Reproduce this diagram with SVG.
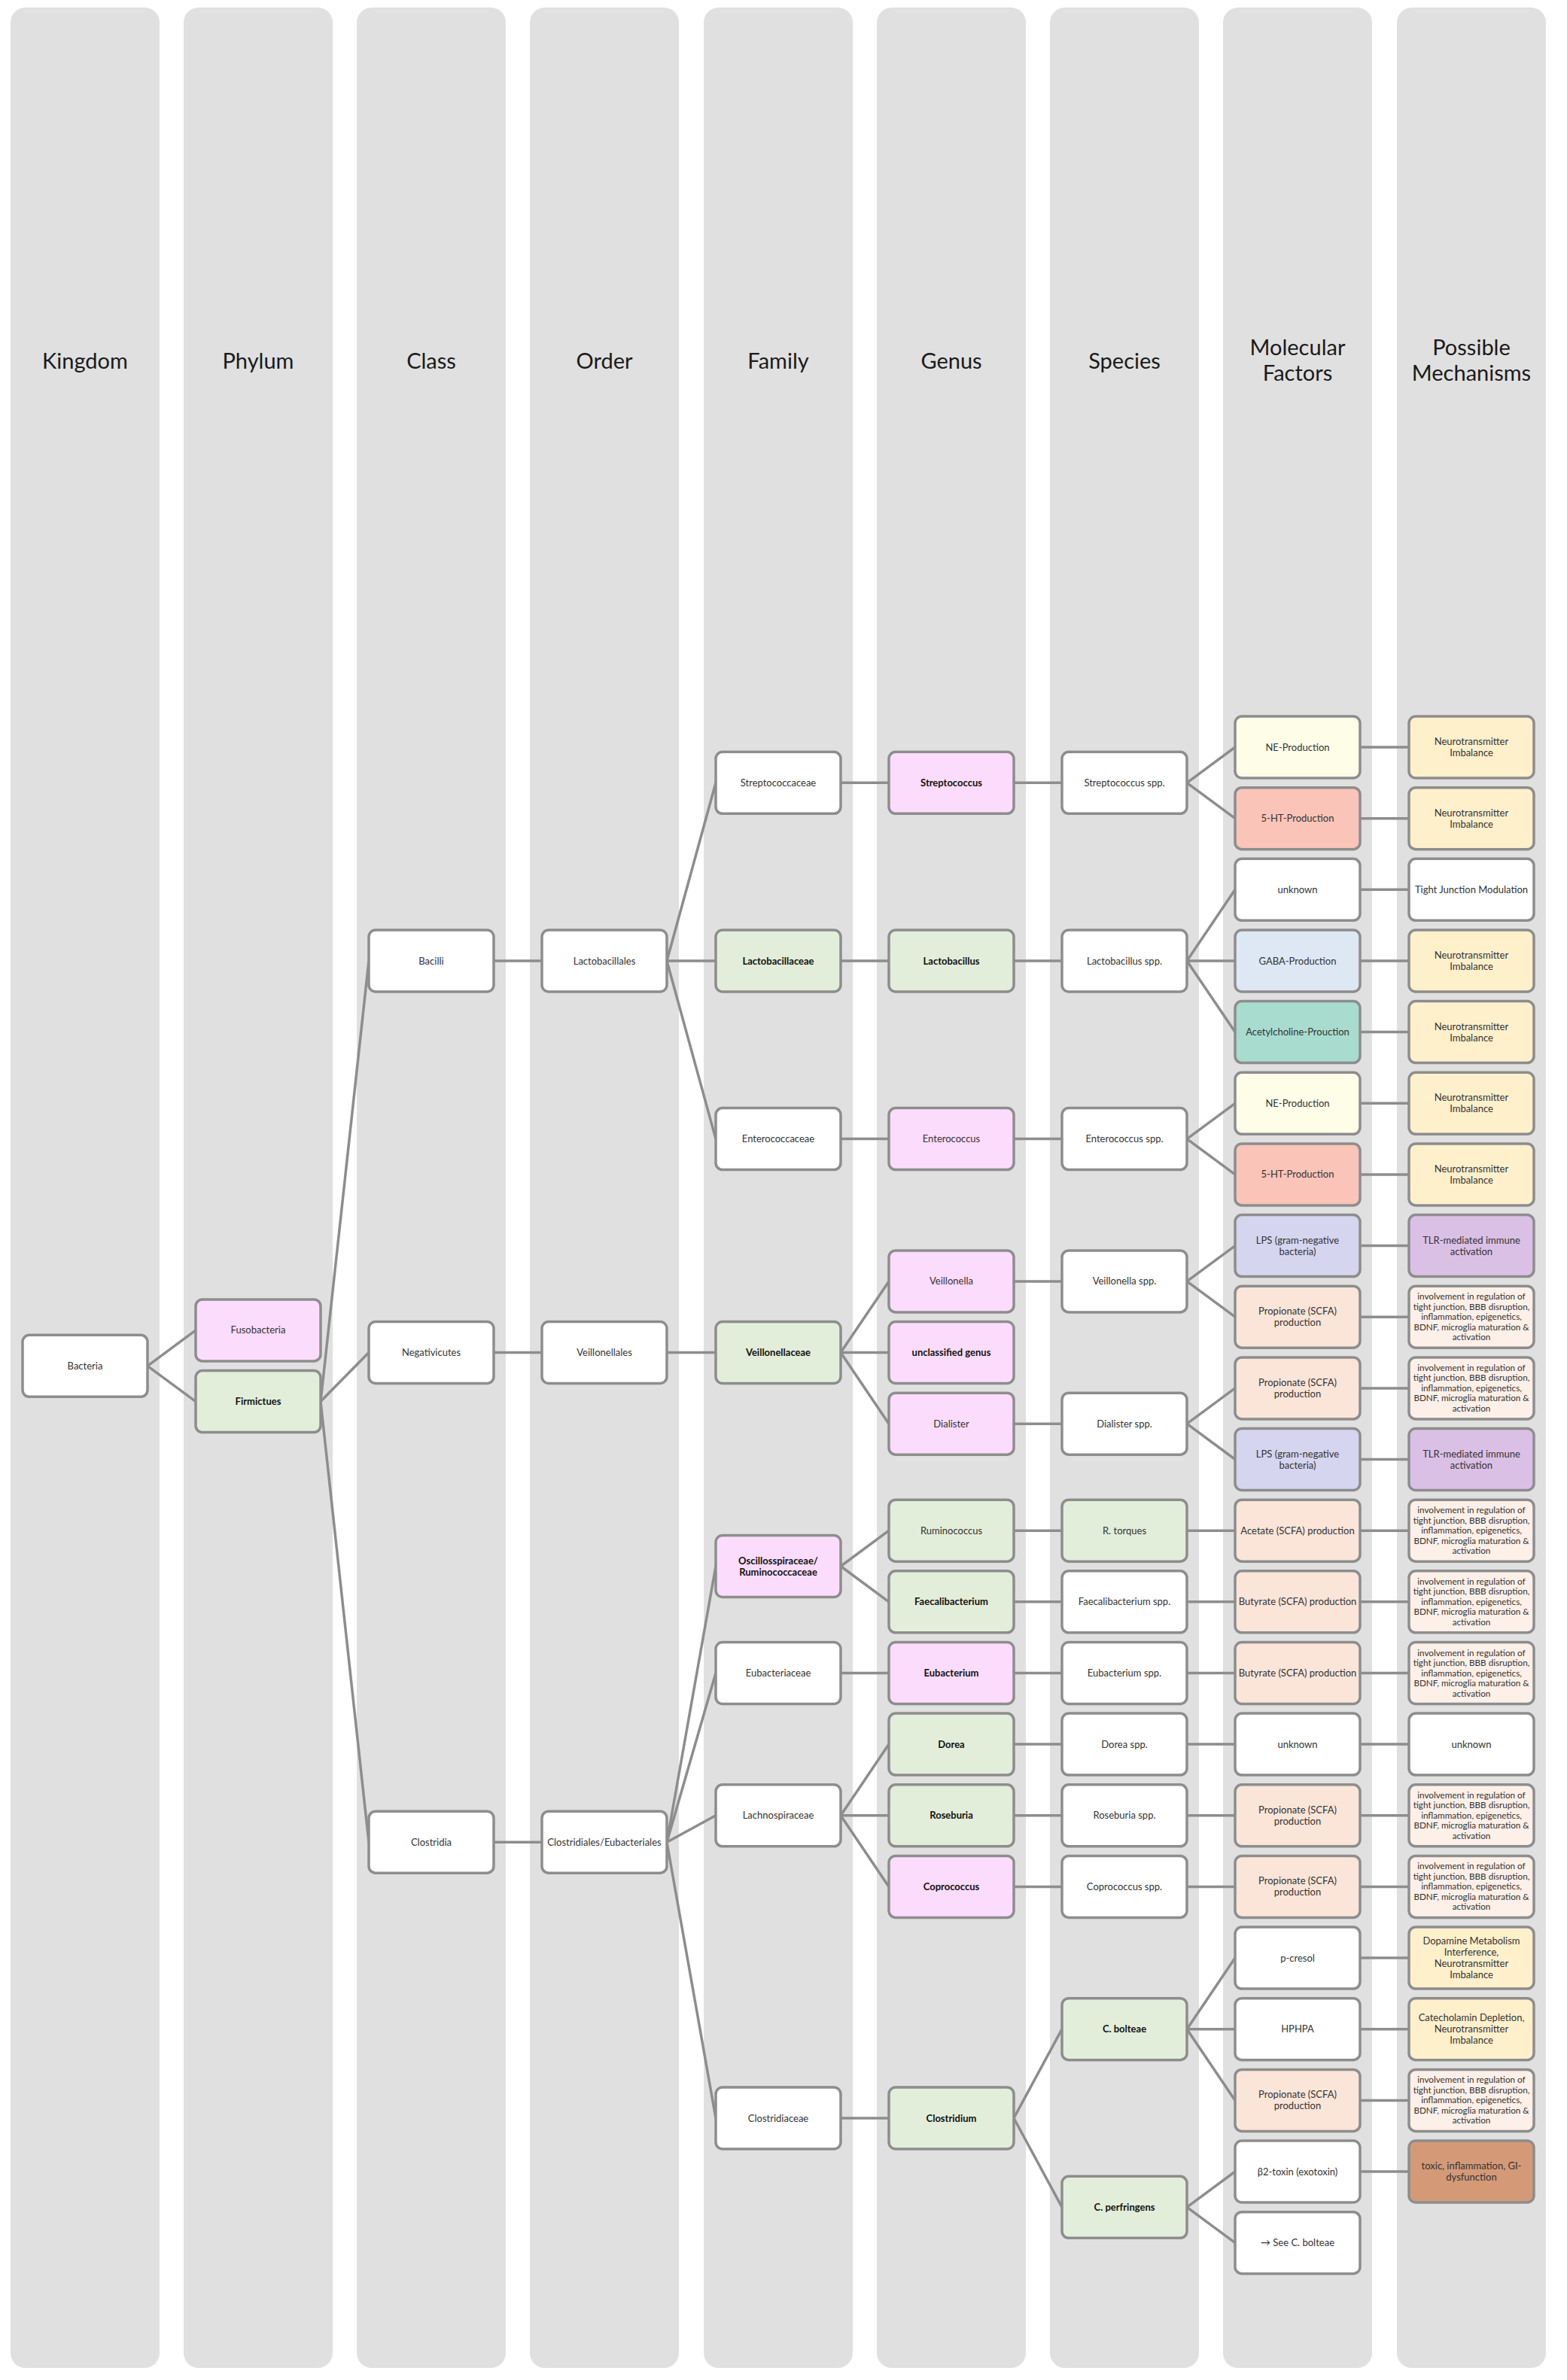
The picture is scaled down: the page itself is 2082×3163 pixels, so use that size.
<svg xmlns="http://www.w3.org/2000/svg" width="2082" height="3163" viewBox="0 0 2082 3163">
<style>
.col{fill:#e0e0e0}
.n rect{stroke:#8d8d8d;stroke-width:3.5}
.w{fill:#ffffff}.pk{fill:#fcdcfc}.gr{fill:#e2eed9}.ne{fill:#fefee8}.ht{fill:#fbc4b8}.gaba{fill:#dde8f4}.ach{fill:#a8dccf}.lps{fill:#d5d5ef}.scfa{fill:#fae5d8}.nt{fill:#fff0cc}.tlr{fill:#dbc0e6}.inv{fill:#fdf0e8}.tox{fill:#d49a78}
text{font-family:Lato,"Liberation Sans",sans-serif;text-anchor:middle}
.n text{font-size:13px;fill:#333}
.n text.b{font-weight:bold;fill:#111}
.n text.s{font-size:11.7px}
.h{font-size:29px;fill:#1a1a1a}
.c path{stroke:#8d8d8d;stroke-width:3.5;fill:none}
</style>
<g id="columns">
<rect class="col" x="14" y="10" width="198" height="3137" rx="20"/>
<rect class="col" x="244" y="10" width="198" height="3137" rx="20"/>
<rect class="col" x="474" y="10" width="198" height="3137" rx="20"/>
<rect class="col" x="704" y="10" width="198" height="3137" rx="20"/>
<rect class="col" x="935" y="10" width="198" height="3137" rx="20"/>
<rect class="col" x="1165" y="10" width="198" height="3137" rx="20"/>
<rect class="col" x="1395" y="10" width="198" height="3137" rx="20"/>
<rect class="col" x="1625" y="10" width="198" height="3137" rx="20"/>
<rect class="col" x="1856" y="10" width="198" height="3137" rx="20"/>
<text class="h" x="113" y="490">Kingdom</text>
<text class="h" x="343" y="490">Phylum</text>
<text class="h" x="573" y="490">Class</text>
<text class="h" x="803" y="490">Order</text>
<text class="h" x="1034" y="490">Family</text>
<text class="h" x="1264" y="490">Genus</text>
<text class="h" x="1494" y="490">Species</text>
<text class="h" x="1724" y="472">Molecular<tspan x="1724" dy="34">Factors</tspan></text>
<text class="h" x="1955" y="472">Possible<tspan x="1955" dy="34">Mechanisms</tspan></text>
</g>
<g id="connectors" class="c">
<path d="M196,1815.3 L260,1767.9"/>
<path d="M196,1815.3 L260,1862.6"/>
<path d="M426,1862.6 L490,1277"/>
<path d="M426,1862.6 L490,1797.5"/>
<path d="M426,1862.6 L490,2448.2"/>
<path d="M656,1277 L720,1277"/>
<path d="M656,1797.5 L720,1797.5"/>
<path d="M656,2448.2 L720,2448.2"/>
<path d="M886,1277 L951,1040.3"/>
<path d="M886,1277 L951,1277"/>
<path d="M886,1277 L951,1513.6"/>
<path d="M886,1797.5 L951,1797.5"/>
<path d="M886,2448.2 L951,2081.5"/>
<path d="M886,2448.2 L951,2223.5"/>
<path d="M886,2448.2 L951,2412.8"/>
<path d="M886,2448.2 L951,2815"/>
<path d="M1117,1040.3 L1181,1040.3"/>
<path d="M1117,1277 L1181,1277"/>
<path d="M1117,1513.6 L1181,1513.6"/>
<path d="M1117,1797.5 L1181,1702.9"/>
<path d="M1117,1797.5 L1181,1797.5"/>
<path d="M1117,1797.5 L1181,1892.2"/>
<path d="M1117,2081.5 L1181,2034.2"/>
<path d="M1117,2081.5 L1181,2128.8"/>
<path d="M1117,2223.5 L1181,2223.5"/>
<path d="M1117,2412.8 L1181,2318.1"/>
<path d="M1117,2412.8 L1181,2412.8"/>
<path d="M1117,2412.8 L1181,2507.4"/>
<path d="M1117,2815 L1181,2815"/>
<path d="M1347,1040.3 L1411,1040.3"/>
<path d="M1347,1277 L1411,1277"/>
<path d="M1347,1513.6 L1411,1513.6"/>
<path d="M1347,1702.9 L1411,1702.9"/>
<path d="M1347,1892.2 L1411,1892.2"/>
<path d="M1347,2034.2 L1411,2034.2"/>
<path d="M1347,2128.8 L1411,2128.8"/>
<path d="M1347,2223.5 L1411,2223.5"/>
<path d="M1347,2318.1 L1411,2318.1"/>
<path d="M1347,2412.8 L1411,2412.8"/>
<path d="M1347,2507.4 L1411,2507.4"/>
<path d="M1347,2815 L1411,2696.7"/>
<path d="M1347,2815 L1411,2933.3"/>
<path d="M1577,1040.3 L1641,993"/>
<path d="M1577,1040.3 L1641,1087.7"/>
<path d="M1577,1277 L1641,1182.3"/>
<path d="M1577,1277 L1641,1277"/>
<path d="M1577,1277 L1641,1371.6"/>
<path d="M1577,1513.6 L1641,1466.3"/>
<path d="M1577,1513.6 L1641,1560.9"/>
<path d="M1577,1702.9 L1641,1655.6"/>
<path d="M1577,1702.9 L1641,1750.2"/>
<path d="M1577,1892.2 L1641,1844.9"/>
<path d="M1577,1892.2 L1641,1939.5"/>
<path d="M1577,2034.2 L1641,2034.2"/>
<path d="M1577,2128.8 L1641,2128.8"/>
<path d="M1577,2223.5 L1641,2223.5"/>
<path d="M1577,2318.1 L1641,2318.1"/>
<path d="M1577,2412.8 L1641,2412.8"/>
<path d="M1577,2507.4 L1641,2507.4"/>
<path d="M1577,2696.7 L1641,2602.1"/>
<path d="M1577,2696.7 L1641,2696.7"/>
<path d="M1577,2696.7 L1641,2791.4"/>
<path d="M1577,2933.3 L1641,2886"/>
<path d="M1577,2933.3 L1641,2980.7"/>
<path d="M1807,993 L1872,993"/>
<path d="M1807,1087.7 L1872,1087.7"/>
<path d="M1807,1182.3 L1872,1182.3"/>
<path d="M1807,1277 L1872,1277"/>
<path d="M1807,1371.6 L1872,1371.6"/>
<path d="M1807,1466.3 L1872,1466.3"/>
<path d="M1807,1560.9 L1872,1560.9"/>
<path d="M1807,1655.6 L1872,1655.6"/>
<path d="M1807,1750.2 L1872,1750.2"/>
<path d="M1807,1844.9 L1872,1844.9"/>
<path d="M1807,1939.5 L1872,1939.5"/>
<path d="M1807,2034.2 L1872,2034.2"/>
<path d="M1807,2128.8 L1872,2128.8"/>
<path d="M1807,2223.5 L1872,2223.5"/>
<path d="M1807,2318.1 L1872,2318.1"/>
<path d="M1807,2412.8 L1872,2412.8"/>
<path d="M1807,2507.4 L1872,2507.4"/>
<path d="M1807,2602.1 L1872,2602.1"/>
<path d="M1807,2696.7 L1872,2696.7"/>
<path d="M1807,2791.4 L1872,2791.4"/>
<path d="M1807,2886 L1872,2886"/>
</g>
<g id="n-bacteria" class="n" transform="translate(30,1815.3)"><rect class="w" y="-41" width="166" height="82" rx="9"/><text x="83" y="4.5">Bacteria</text></g>
<g id="n-fusobacteria" class="n" transform="translate(260,1767.9)"><rect class="pk" y="-41" width="166" height="82" rx="9"/><text x="83" y="4.5">Fusobacteria</text></g>
<g id="n-firmictues" class="n" transform="translate(260,1862.6)"><rect class="gr" y="-41" width="166" height="82" rx="9"/><text class="b" x="83" y="4.5">Firmictues</text></g>
<g id="n-bacilli" class="n" transform="translate(490,1277)"><rect class="w" y="-41" width="166" height="82" rx="9"/><text x="83" y="4.5">Bacilli</text></g>
<g id="n-negativicutes" class="n" transform="translate(490,1797.5)"><rect class="w" y="-41" width="166" height="82" rx="9"/><text x="83" y="4.5">Negativicutes</text></g>
<g id="n-clostridia" class="n" transform="translate(490,2448.2)"><rect class="w" y="-41" width="166" height="82" rx="9"/><text x="83" y="4.5">Clostridia</text></g>
<g id="n-lactobacillales" class="n" transform="translate(720,1277)"><rect class="w" y="-41" width="166" height="82" rx="9"/><text x="83" y="4.5">Lactobacillales</text></g>
<g id="n-veillonellales" class="n" transform="translate(720,1797.5)"><rect class="w" y="-41" width="166" height="82" rx="9"/><text x="83" y="4.5">Veillonellales</text></g>
<g id="n-clostridiales" class="n" transform="translate(720,2448.2)"><rect class="w" y="-41" width="166" height="82" rx="9"/><text x="83" y="4.5">Clostridiales/Eubacteriales</text></g>
<g id="n-streptococcaceae" class="n" transform="translate(951,1040.3)"><rect class="w" y="-41" width="166" height="82" rx="9"/><text x="83" y="4.5">Streptococcaceae</text></g>
<g id="n-lactobacillaceae" class="n" transform="translate(951,1277)"><rect class="gr" y="-41" width="166" height="82" rx="9"/><text class="b" x="83" y="4.5">Lactobacillaceae</text></g>
<g id="n-enterococcaceae" class="n" transform="translate(951,1513.6)"><rect class="w" y="-41" width="166" height="82" rx="9"/><text x="83" y="4.5">Enterococcaceae</text></g>
<g id="n-veillonellaceae" class="n" transform="translate(951,1797.5)"><rect class="gr" y="-41" width="166" height="82" rx="9"/><text class="b" x="83" y="4.5">Veillonellaceae</text></g>
<g id="n-oscillospiraceae" class="n" transform="translate(951,2081.5)"><rect class="pk" y="-41" width="166" height="82" rx="9"/><text class="b" x="83" y="-3">Oscillosspiraceae/<tspan x="83" dy="15">Ruminococcaceae</tspan></text></g>
<g id="n-eubacteriaceae" class="n" transform="translate(951,2223.5)"><rect class="w" y="-41" width="166" height="82" rx="9"/><text x="83" y="4.5">Eubacteriaceae</text></g>
<g id="n-lachnospiraceae" class="n" transform="translate(951,2412.8)"><rect class="w" y="-41" width="166" height="82" rx="9"/><text x="83" y="4.5">Lachnospiraceae</text></g>
<g id="n-clostridiaceae" class="n" transform="translate(951,2815)"><rect class="w" y="-41" width="166" height="82" rx="9"/><text x="83" y="4.5">Clostridiaceae</text></g>
<g id="n-streptococcus" class="n" transform="translate(1181,1040.3)"><rect class="pk" y="-41" width="166" height="82" rx="9"/><text class="b" x="83" y="4.5">Streptococcus</text></g>
<g id="n-lactobacillus" class="n" transform="translate(1181,1277)"><rect class="gr" y="-41" width="166" height="82" rx="9"/><text class="b" x="83" y="4.5">Lactobacillus</text></g>
<g id="n-enterococcus" class="n" transform="translate(1181,1513.6)"><rect class="pk" y="-41" width="166" height="82" rx="9"/><text x="83" y="4.5">Enterococcus</text></g>
<g id="n-veillonella" class="n" transform="translate(1181,1702.9)"><rect class="pk" y="-41" width="166" height="82" rx="9"/><text x="83" y="4.5">Veillonella</text></g>
<g id="n-unclassified" class="n" transform="translate(1181,1797.5)"><rect class="pk" y="-41" width="166" height="82" rx="9"/><text class="b" x="83" y="4.5">unclassified genus</text></g>
<g id="n-dialister" class="n" transform="translate(1181,1892.2)"><rect class="pk" y="-41" width="166" height="82" rx="9"/><text x="83" y="4.5">Dialister</text></g>
<g id="n-ruminococcus" class="n" transform="translate(1181,2034.2)"><rect class="gr" y="-41" width="166" height="82" rx="9"/><text x="83" y="4.5">Ruminococcus</text></g>
<g id="n-faecalibacterium" class="n" transform="translate(1181,2128.8)"><rect class="gr" y="-41" width="166" height="82" rx="9"/><text class="b" x="83" y="4.5">Faecalibacterium</text></g>
<g id="n-eubacterium" class="n" transform="translate(1181,2223.5)"><rect class="pk" y="-41" width="166" height="82" rx="9"/><text class="b" x="83" y="4.5">Eubacterium</text></g>
<g id="n-dorea" class="n" transform="translate(1181,2318.1)"><rect class="gr" y="-41" width="166" height="82" rx="9"/><text class="b" x="83" y="4.5">Dorea</text></g>
<g id="n-roseburia" class="n" transform="translate(1181,2412.8)"><rect class="gr" y="-41" width="166" height="82" rx="9"/><text class="b" x="83" y="4.5">Roseburia</text></g>
<g id="n-coprococcus" class="n" transform="translate(1181,2507.4)"><rect class="pk" y="-41" width="166" height="82" rx="9"/><text class="b" x="83" y="4.5">Coprococcus</text></g>
<g id="n-clostridium" class="n" transform="translate(1181,2815)"><rect class="gr" y="-41" width="166" height="82" rx="9"/><text class="b" x="83" y="4.5">Clostridium</text></g>
<g id="n-streptococcus-spp" class="n" transform="translate(1411,1040.3)"><rect class="w" y="-41" width="166" height="82" rx="9"/><text x="83" y="4.5">Streptococcus spp.</text></g>
<g id="n-lactobacillus-spp" class="n" transform="translate(1411,1277)"><rect class="w" y="-41" width="166" height="82" rx="9"/><text x="83" y="4.5">Lactobacillus spp.</text></g>
<g id="n-enterococcus-spp" class="n" transform="translate(1411,1513.6)"><rect class="w" y="-41" width="166" height="82" rx="9"/><text x="83" y="4.5">Enterococcus spp.</text></g>
<g id="n-veillonella-spp" class="n" transform="translate(1411,1702.9)"><rect class="w" y="-41" width="166" height="82" rx="9"/><text x="83" y="4.5">Veillonella spp.</text></g>
<g id="n-dialister-spp" class="n" transform="translate(1411,1892.2)"><rect class="w" y="-41" width="166" height="82" rx="9"/><text x="83" y="4.5">Dialister spp.</text></g>
<g id="n-r-torques" class="n" transform="translate(1411,2034.2)"><rect class="gr" y="-41" width="166" height="82" rx="9"/><text x="83" y="4.5">R. torques</text></g>
<g id="n-faecalibacterium-spp" class="n" transform="translate(1411,2128.8)"><rect class="w" y="-41" width="166" height="82" rx="9"/><text x="83" y="4.5">Faecalibacterium spp.</text></g>
<g id="n-eubacterium-spp" class="n" transform="translate(1411,2223.5)"><rect class="w" y="-41" width="166" height="82" rx="9"/><text x="83" y="4.5">Eubacterium spp.</text></g>
<g id="n-dorea-spp" class="n" transform="translate(1411,2318.1)"><rect class="w" y="-41" width="166" height="82" rx="9"/><text x="83" y="4.5">Dorea spp.</text></g>
<g id="n-roseburia-spp" class="n" transform="translate(1411,2412.8)"><rect class="w" y="-41" width="166" height="82" rx="9"/><text x="83" y="4.5">Roseburia spp.</text></g>
<g id="n-coprococcus-spp" class="n" transform="translate(1411,2507.4)"><rect class="w" y="-41" width="166" height="82" rx="9"/><text x="83" y="4.5">Coprococcus spp.</text></g>
<g id="n-c-bolteae" class="n" transform="translate(1411,2696.7)"><rect class="gr" y="-41" width="166" height="82" rx="9"/><text class="b" x="83" y="4.5">C. bolteae</text></g>
<g id="n-c-perfringens" class="n" transform="translate(1411,2933.3)"><rect class="gr" y="-41" width="166" height="82" rx="9"/><text class="b" x="83" y="4.5">C. perfringens</text></g>
<g id="mf-0" class="n" transform="translate(1641,993)"><rect class="ne" y="-41" width="166" height="82" rx="9"/><text x="83" y="4.5">NE-Production</text></g>
<g id="mf-1" class="n" transform="translate(1641,1087.7)"><rect class="ht" y="-41" width="166" height="82" rx="9"/><text x="83" y="4.5">5-HT-Production</text></g>
<g id="mf-2" class="n" transform="translate(1641,1182.3)"><rect class="w" y="-41" width="166" height="82" rx="9"/><text x="83" y="4.5">unknown</text></g>
<g id="mf-3" class="n" transform="translate(1641,1277)"><rect class="gaba" y="-41" width="166" height="82" rx="9"/><text x="83" y="4.5">GABA-Production</text></g>
<g id="mf-4" class="n" transform="translate(1641,1371.6)"><rect class="ach" y="-41" width="166" height="82" rx="9"/><text x="83" y="4.5">Acetylcholine-Prouction</text></g>
<g id="mf-5" class="n" transform="translate(1641,1466.3)"><rect class="ne" y="-41" width="166" height="82" rx="9"/><text x="83" y="4.5">NE-Production</text></g>
<g id="mf-6" class="n" transform="translate(1641,1560.9)"><rect class="ht" y="-41" width="166" height="82" rx="9"/><text x="83" y="4.5">5-HT-Production</text></g>
<g id="mf-7" class="n" transform="translate(1641,1655.6)"><rect class="lps" y="-41" width="166" height="82" rx="9"/><text x="83" y="-3">LPS (gram-negative<tspan x="83" dy="15">bacteria)</tspan></text></g>
<g id="mf-8" class="n" transform="translate(1641,1750.2)"><rect class="scfa" y="-41" width="166" height="82" rx="9"/><text x="83" y="-3">Propionate (SCFA)<tspan x="83" dy="15">production</tspan></text></g>
<g id="mf-9" class="n" transform="translate(1641,1844.9)"><rect class="scfa" y="-41" width="166" height="82" rx="9"/><text x="83" y="-3">Propionate (SCFA)<tspan x="83" dy="15">production</tspan></text></g>
<g id="mf-10" class="n" transform="translate(1641,1939.5)"><rect class="lps" y="-41" width="166" height="82" rx="9"/><text x="83" y="-3">LPS (gram-negative<tspan x="83" dy="15">bacteria)</tspan></text></g>
<g id="mf-11" class="n" transform="translate(1641,2034.2)"><rect class="scfa" y="-41" width="166" height="82" rx="9"/><text x="83" y="4.5">Acetate (SCFA) production</text></g>
<g id="mf-12" class="n" transform="translate(1641,2128.8)"><rect class="scfa" y="-41" width="166" height="82" rx="9"/><text x="83" y="4.5">Butyrate (SCFA) production</text></g>
<g id="mf-13" class="n" transform="translate(1641,2223.5)"><rect class="scfa" y="-41" width="166" height="82" rx="9"/><text x="83" y="4.5">Butyrate (SCFA) production</text></g>
<g id="mf-14" class="n" transform="translate(1641,2318.1)"><rect class="w" y="-41" width="166" height="82" rx="9"/><text x="83" y="4.5">unknown</text></g>
<g id="mf-15" class="n" transform="translate(1641,2412.8)"><rect class="scfa" y="-41" width="166" height="82" rx="9"/><text x="83" y="-3">Propionate (SCFA)<tspan x="83" dy="15">production</tspan></text></g>
<g id="mf-16" class="n" transform="translate(1641,2507.4)"><rect class="scfa" y="-41" width="166" height="82" rx="9"/><text x="83" y="-3">Propionate (SCFA)<tspan x="83" dy="15">production</tspan></text></g>
<g id="mf-17" class="n" transform="translate(1641,2602.1)"><rect class="w" y="-41" width="166" height="82" rx="9"/><text x="83" y="4.5">p-cresol</text></g>
<g id="mf-18" class="n" transform="translate(1641,2696.7)"><rect class="w" y="-41" width="166" height="82" rx="9"/><text x="83" y="4.5">HPHPA</text></g>
<g id="mf-19" class="n" transform="translate(1641,2791.4)"><rect class="scfa" y="-41" width="166" height="82" rx="9"/><text x="83" y="-3">Propionate (SCFA)<tspan x="83" dy="15">production</tspan></text></g>
<g id="mf-20" class="n" transform="translate(1641,2886)"><rect class="w" y="-41" width="166" height="82" rx="9"/><text x="83" y="4.5">β2-toxin (exotoxin)</text></g>
<g id="mf-21" class="n" transform="translate(1641,2980.7)"><rect class="w" y="-41" width="166" height="82" rx="9"/><text x="83" y="4.5">→ See C. bolteae</text></g>
<g id="pm-0" class="n" transform="translate(1872,993)"><rect class="nt" y="-41" width="166" height="82" rx="9"/><text x="83" y="-3">Neurotransmitter<tspan x="83" dy="15">Imbalance</tspan></text></g>
<g id="pm-1" class="n" transform="translate(1872,1087.7)"><rect class="nt" y="-41" width="166" height="82" rx="9"/><text x="83" y="-3">Neurotransmitter<tspan x="83" dy="15">Imbalance</tspan></text></g>
<g id="pm-2" class="n" transform="translate(1872,1182.3)"><rect class="w" y="-41" width="166" height="82" rx="9"/><text x="83" y="4.5">Tight Junction Modulation</text></g>
<g id="pm-3" class="n" transform="translate(1872,1277)"><rect class="nt" y="-41" width="166" height="82" rx="9"/><text x="83" y="-3">Neurotransmitter<tspan x="83" dy="15">Imbalance</tspan></text></g>
<g id="pm-4" class="n" transform="translate(1872,1371.6)"><rect class="nt" y="-41" width="166" height="82" rx="9"/><text x="83" y="-3">Neurotransmitter<tspan x="83" dy="15">Imbalance</tspan></text></g>
<g id="pm-5" class="n" transform="translate(1872,1466.3)"><rect class="nt" y="-41" width="166" height="82" rx="9"/><text x="83" y="-3">Neurotransmitter<tspan x="83" dy="15">Imbalance</tspan></text></g>
<g id="pm-6" class="n" transform="translate(1872,1560.9)"><rect class="nt" y="-41" width="166" height="82" rx="9"/><text x="83" y="-3">Neurotransmitter<tspan x="83" dy="15">Imbalance</tspan></text></g>
<g id="pm-7" class="n" transform="translate(1872,1655.6)"><rect class="tlr" y="-41" width="166" height="82" rx="9"/><text x="83" y="-3">TLR-mediated immune<tspan x="83" dy="15">activation</tspan></text></g>
<g id="pm-8" class="n" transform="translate(1872,1750.2)"><rect class="inv" y="-41" width="166" height="82" rx="9"/><text class="s" x="83" y="-23">involvement in regulation of<tspan x="83" dy="13.5">tight junction, BBB disruption,</tspan><tspan x="83" dy="13.5">inflammation, epigenetics,</tspan><tspan x="83" dy="13.5">BDNF, microglia maturation &amp;</tspan><tspan x="83" dy="13.5">activation</tspan></text></g>
<g id="pm-9" class="n" transform="translate(1872,1844.9)"><rect class="inv" y="-41" width="166" height="82" rx="9"/><text class="s" x="83" y="-23">involvement in regulation of<tspan x="83" dy="13.5">tight junction, BBB disruption,</tspan><tspan x="83" dy="13.5">inflammation, epigenetics,</tspan><tspan x="83" dy="13.5">BDNF, microglia maturation &amp;</tspan><tspan x="83" dy="13.5">activation</tspan></text></g>
<g id="pm-10" class="n" transform="translate(1872,1939.5)"><rect class="tlr" y="-41" width="166" height="82" rx="9"/><text x="83" y="-3">TLR-mediated immune<tspan x="83" dy="15">activation</tspan></text></g>
<g id="pm-11" class="n" transform="translate(1872,2034.2)"><rect class="inv" y="-41" width="166" height="82" rx="9"/><text class="s" x="83" y="-23">involvement in regulation of<tspan x="83" dy="13.5">tight junction, BBB disruption,</tspan><tspan x="83" dy="13.5">inflammation, epigenetics,</tspan><tspan x="83" dy="13.5">BDNF, microglia maturation &amp;</tspan><tspan x="83" dy="13.5">activation</tspan></text></g>
<g id="pm-12" class="n" transform="translate(1872,2128.8)"><rect class="inv" y="-41" width="166" height="82" rx="9"/><text class="s" x="83" y="-23">involvement in regulation of<tspan x="83" dy="13.5">tight junction, BBB disruption,</tspan><tspan x="83" dy="13.5">inflammation, epigenetics,</tspan><tspan x="83" dy="13.5">BDNF, microglia maturation &amp;</tspan><tspan x="83" dy="13.5">activation</tspan></text></g>
<g id="pm-13" class="n" transform="translate(1872,2223.5)"><rect class="inv" y="-41" width="166" height="82" rx="9"/><text class="s" x="83" y="-23">involvement in regulation of<tspan x="83" dy="13.5">tight junction, BBB disruption,</tspan><tspan x="83" dy="13.5">inflammation, epigenetics,</tspan><tspan x="83" dy="13.5">BDNF, microglia maturation &amp;</tspan><tspan x="83" dy="13.5">activation</tspan></text></g>
<g id="pm-14" class="n" transform="translate(1872,2318.1)"><rect class="w" y="-41" width="166" height="82" rx="9"/><text x="83" y="4.5">unknown</text></g>
<g id="pm-15" class="n" transform="translate(1872,2412.8)"><rect class="inv" y="-41" width="166" height="82" rx="9"/><text class="s" x="83" y="-23">involvement in regulation of<tspan x="83" dy="13.5">tight junction, BBB disruption,</tspan><tspan x="83" dy="13.5">inflammation, epigenetics,</tspan><tspan x="83" dy="13.5">BDNF, microglia maturation &amp;</tspan><tspan x="83" dy="13.5">activation</tspan></text></g>
<g id="pm-16" class="n" transform="translate(1872,2507.4)"><rect class="inv" y="-41" width="166" height="82" rx="9"/><text class="s" x="83" y="-23">involvement in regulation of<tspan x="83" dy="13.5">tight junction, BBB disruption,</tspan><tspan x="83" dy="13.5">inflammation, epigenetics,</tspan><tspan x="83" dy="13.5">BDNF, microglia maturation &amp;</tspan><tspan x="83" dy="13.5">activation</tspan></text></g>
<g id="pm-17" class="n" transform="translate(1872,2602.1)"><rect class="nt" y="-41" width="166" height="82" rx="9"/><text x="83" y="-18">Dopamine Metabolism<tspan x="83" dy="15">Interference,</tspan><tspan x="83" dy="15">Neurotransmitter</tspan><tspan x="83" dy="15">Imbalance</tspan></text></g>
<g id="pm-18" class="n" transform="translate(1872,2696.7)"><rect class="nt" y="-41" width="166" height="82" rx="9"/><text x="83" y="-10.5">Catecholamin Depletion,<tspan x="83" dy="15">Neurotransmitter</tspan><tspan x="83" dy="15">Imbalance</tspan></text></g>
<g id="pm-19" class="n" transform="translate(1872,2791.4)"><rect class="inv" y="-41" width="166" height="82" rx="9"/><text class="s" x="83" y="-23">involvement in regulation of<tspan x="83" dy="13.5">tight junction, BBB disruption,</tspan><tspan x="83" dy="13.5">inflammation, epigenetics,</tspan><tspan x="83" dy="13.5">BDNF, microglia maturation &amp;</tspan><tspan x="83" dy="13.5">activation</tspan></text></g>
<g id="pm-20" class="n" transform="translate(1872,2886)"><rect class="tox" y="-41" width="166" height="82" rx="9"/><text x="83" y="-3">toxic, inflammation, GI-<tspan x="83" dy="15">dysfunction</tspan></text></g>
</svg>
